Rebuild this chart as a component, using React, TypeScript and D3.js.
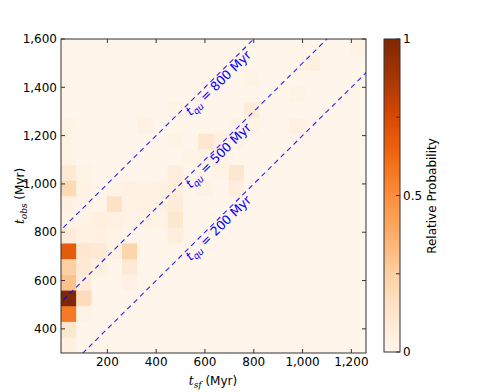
import React from 'react';
import * as d3 from 'd3';

// bin edges (Myr)
const tsfEdges = d3.range(21).map(i => 10 + 62.5 * i);
const tobsEdges = d3.range(21).map(i => 300 + 65 * i);

// relative probability per bin, rows from bottom (t_obs 300-365) to top
const r00 = [0.04, 0, 0, 0, 0, 0, 0, 0, 0, 0, 0, 0, 0, 0, 0, 0, 0, 0, 0, 0];
const r01 = [0.12, 0, 0, 0, 0, 0, 0, 0, 0, 0, 0, 0, 0, 0, 0, 0, 0, 0, 0, 0];
const r02 = [0.57, 0.02, 0, 0, 0, 0, 0, 0, 0, 0, 0, 0, 0, 0, 0, 0, 0, 0, 0, 0];
const r03 = [1.0, 0.18, 0, 0, 0, 0, 0, 0, 0, 0, 0, 0, 0, 0, 0, 0, 0, 0, 0, 0];
const r04 = [0.3, 0.08, 0, 0, 0.03, 0, 0, 0, 0, 0, 0, 0, 0, 0, 0, 0, 0, 0, 0, 0];
const r05 = [0.25, 0.1, 0.04, 0, 0.1, 0, 0, 0, 0, 0, 0, 0, 0, 0, 0, 0, 0, 0, 0, 0];
const r06 = [0.68, 0.12, 0.1, 0.04, 0.22, 0, 0, 0, 0, 0, 0, 0, 0, 0, 0, 0, 0, 0, 0, 0];
const r07 = [0.08, 0.04, 0.04, 0.02, 0, 0, 0, 0.06, 0, 0, 0, 0, 0, 0, 0, 0, 0, 0, 0, 0];
const r08 = [0.02, 0.02, 0.05, 0.04, 0.02, 0.03, 0.02, 0.12, 0, 0, 0, 0, 0, 0, 0, 0, 0, 0, 0, 0];
const r09 = [0.04, 0.02, 0, 0.15, 0.03, 0.04, 0.03, 0.08, 0, 0, 0, 0, 0, 0, 0, 0, 0, 0, 0, 0];
const r10 = [0.2, 0.03, 0, 0.02, 0.04, 0.03, 0.04, 0.06, 0, 0.03, 0, 0.06, 0, 0, 0, 0, 0, 0, 0, 0];
const r11 = [0.1, 0.02, 0, 0, 0, 0, 0, 0.06, 0, 0, 0.02, 0.12, 0, 0, 0, 0, 0, 0, 0, 0];
const r12 = [0.02, 0, 0, 0, 0, 0, 0, 0, 0.02, 0.03, 0.03, 0, 0, 0, 0, 0, 0, 0, 0, 0];
const r13 = [0.02, 0, 0, 0, 0, 0, 0, 0.02, 0, 0.12, 0.05, 0.03, 0, 0, 0, 0, 0, 0, 0, 0];
const r14 = [0.02, 0, 0, 0, 0, 0.03, 0, 0, 0, 0, 0, 0.02, 0.02, 0, 0, 0.04, 0, 0, 0, 0];
const r15 = [0, 0, 0, 0, 0, 0, 0, 0.02, 0, 0, 0, 0, 0.08, 0, 0, 0, 0, 0, 0, 0];
const r16 = [0, 0, 0, 0, 0, 0, 0, 0, 0, 0, 0, 0, 0, 0, 0, 0.02, 0, 0, 0, 0];
const r17 = [0, 0, 0, 0, 0, 0, 0, 0, 0, 0, 0, 0, 0.02, 0, 0, 0, 0, 0, 0, 0];
const r18 = [0, 0, 0, 0, 0, 0, 0, 0, 0, 0, 0, 0, 0, 0, 0, 0, 0.05, 0, 0, 0];
const r19 = [0, 0, 0, 0, 0, 0, 0, 0, 0, 0, 0, 0, 0, 0, 0, 0, 0, 0, 0, 0.02];
const probRows = [r00, r01, r02, r03, r04, r05, r06, r07, r08, r09, r10, r11, r12, r13, r14, r15, r16, r17, r18, r19];

const quenchTimes = [200, 500, 800];
const xTicks = [200, 400, 600, 800, 1000, 1200];
const yTicks = [400, 600, 800, 1000, 1200, 1400, 1600];
const cbarTicks = [0, 0.25, 0.5, 0.75, 1];
const cbarLabels = ['0', '', '0.5', '', '1'];

const oranges = ['#fff5eb', '#fee6ce', '#fdd0a2', '#fdae6b', '#fd8d3c', '#f16913', '#d94801', '#a63603', '#7f2704'];

const W = 491, H = 392;
const M = { left: 61, right: 366, top: 39, bottom: 353 };
const FONT = 'DejaVu Sans, sans-serif';

export default function App() {
  const x = d3.scaleLinear().domain([10, 1260]).range([M.left, M.right]);
  const y = d3.scaleLinear().domain([300, 1600]).range([M.bottom, M.top]);
  const color = d3.scaleLinear<string>()
    .domain(oranges.map((_, i) => i / (oranges.length - 1)))
    .range(oranges);
  const cb = d3.scaleLinear().domain([0, 1]).range([352, 39]);
  const fmt = d3.format(',');

  const cells: { c: number; r: number; v: number }[] = [];
  probRows.forEach((row, r) => row.forEach((v, c) => cells.push({ c, r, v })));

  // t_obs = t_sf + t_qu
  const qLine = (q: number) => d3.line<number>().x(d => x(d)).y(d => y(d + q))([-400, 1400]) as string;
  const ang = -Math.atan2(y(300) - y(400), x(400) - x(300)) * 180 / Math.PI;
  const labelTsf = 667;

  return (
    <svg width={W} height={H} style={{ display: 'block', background: '#fff' }} fontFamily={FONT}>
      <style>{`body{margin:0}`}</style>
      <defs>
        <clipPath id="plot">
          <rect x={M.left} y={M.top} width={M.right - M.left} height={M.bottom - M.top} />
        </clipPath>
        <linearGradient id="cbar" x1="0" y1="1" x2="0" y2="0">
          {oranges.map((c, i) => (
            <stop key={i} offset={i / (oranges.length - 1)} stopColor={c} />
          ))}
        </linearGradient>
      </defs>

      <rect x={M.left} y={M.top} width={M.right - M.left} height={M.bottom - M.top} fill={color(0)} />
      <g clipPath="url(#plot)">
        {cells.map(({ c, r, v }) => (
          <rect key={`${c}-${r}`}
            x={x(tsfEdges[c])} y={y(tobsEdges[r + 1])}
            width={x(tsfEdges[c + 1]) - x(tsfEdges[c]) + 0.3}
            height={y(tobsEdges[r]) - y(tobsEdges[r + 1]) + 0.3}
            fill={color(v)} />
        ))}
        {quenchTimes.map(q => (
          <path key={`l${q}`} d={qLine(q)} fill="none"
            stroke="#0000ff" strokeOpacity={0.85} strokeWidth={1.1} strokeDasharray="5,4" />
        ))}
      </g>

      {quenchTimes.map(q => {
        const px = x(labelTsf), py = y(labelTsf + q) + 15;
        return (
          <text key={`t${q}`} transform={`translate(${px},${py}) rotate(${ang})`} textAnchor="middle"
            fontSize={12.5} fill="#0000ff">
            <tspan fontStyle="italic">t</tspan>
            <tspan fontStyle="italic" fontSize={9} dy={3}>qu</tspan>
            <tspan dy={-3}>{` = ${q} Myr`}</tspan>
          </text>
        );
      })}

      {/* frame */}
      <rect x={M.left} y={M.top} width={M.right - M.left} height={M.bottom - M.top} fill="none" stroke="#333" strokeWidth={1} />
      {xTicks.map(t => (
        <g key={`x${t}`}>
          <line x1={x(t)} x2={x(t)} y1={M.bottom} y2={M.bottom - 4} stroke="#333" />
          <line x1={x(t)} x2={x(t)} y1={M.top} y2={M.top + 4} stroke="#333" />
          <text x={x(t)} y={366} textAnchor="middle" fontSize={12}>{fmt(t)}</text>
        </g>
      ))}
      {yTicks.map(t => (
        <g key={`y${t}`}>
          <line x1={M.left} x2={M.left + 4} y1={y(t)} y2={y(t)} stroke="#333" />
          <line x1={M.right} x2={M.right - 4} y1={y(t)} y2={y(t)} stroke="#333" />
          <text x={57} y={y(t)} dy="0.35em" textAnchor="end" fontSize={12}>{fmt(t)}</text>
        </g>
      ))}

      <text x={213} y={385} textAnchor="middle" fontSize={12}>
        <tspan fontStyle="italic" fontFamily="DejaVu Serif, serif">t</tspan>
        <tspan fontStyle="italic" fontFamily="DejaVu Serif, serif" fontSize={9} dy={3}>sf</tspan>
        <tspan dy={-3}> (Myr)</tspan>
      </text>
      <text transform="translate(24,196) rotate(-90)" textAnchor="middle" fontSize={12}>
        <tspan fontStyle="italic" fontFamily="DejaVu Serif, serif">t</tspan>
        <tspan fontStyle="italic" fontFamily="DejaVu Serif, serif" fontSize={9} dy={3}>obs</tspan>
        <tspan dy={-3}> (Myr)</tspan>
      </text>

      {/* colorbar */}
      <rect x={384} y={cb(1)} width={16} height={cb(0) - cb(1)} fill="url(#cbar)" stroke="#333" strokeWidth={1} />
      {cbarTicks.map((t, i) => (
        <g key={`c${t}`}>
          <line x1={400} x2={396} y1={cb(t)} y2={cb(t)} stroke="#333" />
          {cbarLabels[i] && (
            <text x={403} y={cb(t)} dy="0.35em" fontSize={12}>{cbarLabels[i]}</text>
          )}
        </g>
      ))}
      <text transform="translate(436,196) rotate(-90)" textAnchor="middle" fontSize={12}>Relative Probability</text>
    </svg>
  );
}
